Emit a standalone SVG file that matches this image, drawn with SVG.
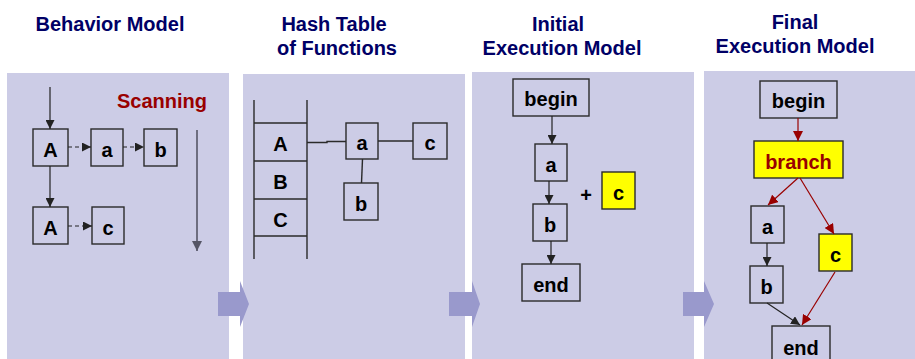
<svg xmlns="http://www.w3.org/2000/svg" width="915" height="359" viewBox="0 0 915 359">
  <style>
    .title { font-family: "Liberation Sans", Arial, sans-serif; font-size: 20px; font-weight: bold; fill: #000066; text-anchor: middle; }
    .panel { fill: #cccce6; }
    .step { fill: #9999cc; }
    .box { fill: none; stroke: #2a2a2a; stroke-width: 1.4; }
    .hl { fill: #ffff00; stroke: #2a2a2a; stroke-width: 1.4; }
    .lbl { font-family: "Liberation Sans", Arial, sans-serif; font-size: 20px; font-weight: bold; fill: #000000; text-anchor: middle; }
    .red { fill: #990000; }
    .edge { fill: none; stroke: #222222; stroke-width: 1.2; }
    .dash { fill: none; stroke: #222222; stroke-width: 1.2; stroke-dasharray: 4 3; }
    .redge { fill: none; stroke: #990000; stroke-width: 1.2; }
    .line { fill: none; stroke: #2a2a2a; stroke-width: 1.4; }
    .scan { fill: none; stroke: #555566; stroke-width: 1.6; }
  </style>
  <defs>
    <marker id="ah" viewBox="0 0 10 10" refX="10" refY="5" markerWidth="9" markerHeight="9" markerUnits="userSpaceOnUse" orient="auto">
      <path d="M0,0 L10,5 L0,10 z" fill="#222222"/>
    </marker>
    <marker id="ahr" viewBox="0 0 10 10" refX="10" refY="5" markerWidth="10" markerHeight="10" markerUnits="userSpaceOnUse" orient="auto">
      <path d="M0,0 L10,5 L0,10 z" fill="#990000"/>
    </marker>
    <marker id="ahg" viewBox="0 0 10 10" refX="10" refY="5" markerWidth="10" markerHeight="10" markerUnits="userSpaceOnUse" orient="auto">
      <path d="M0,0 L10,5 L0,10 z" fill="#555566"/>
    </marker>
  </defs>

  <rect width="915" height="359" fill="#ffffff"/>

  <!-- titles -->
  <g id="titles">
    <text class="title" x="110" y="31">Behavior Model</text>
    <text class="title" x="334" y="31">Hash Table</text>
    <text class="title" x="337" y="55">of Functions</text>
    <text class="title" x="558" y="31">Initial</text>
    <text class="title" x="562" y="55">Execution Model</text>
    <text class="title" x="795" y="29">Final</text>
    <text class="title" x="795" y="53">Execution Model</text>
  </g>

  <!-- panels -->
  <g id="panels">
    <rect class="panel" x="7" y="73" width="222" height="286"/>
    <rect class="panel" x="243" y="74" width="222" height="285"/>
    <rect class="panel" x="472" y="72" width="222" height="287"/>
    <rect class="panel" x="704" y="71" width="211" height="288"/>
  </g>

  <!-- step arrows between panels -->
  <g id="steps">
    <path class="step" d="M218,292 H240 V281 L249,304 L240,327 V316 H218 z"/>
    <path class="step" d="M449,292 H472 V281 L480,304 L472,327 V316 H449 z"/>
    <path class="step" d="M683,292 H704 V281 L714,304 L704,327 V316 H683 z"/>
  </g>

  <!-- panel 1: behavior model -->
  <g id="scanning">
    <text class="lbl red" x="162" y="108">Scanning</text>
  </g>
  <g id="b-A1"><rect class="box" x="33" y="129" width="35" height="37"/><text class="lbl" x="50.5" y="157">A</text></g>
  <g id="b-a"><rect class="box" x="91" y="129" width="32" height="37"/><text class="lbl" x="107" y="157">a</text></g>
  <g id="b-b"><rect class="box" x="144" y="129" width="33" height="37"/><text class="lbl" x="160.5" y="157">b</text></g>
  <g id="b-A2"><rect class="box" x="33" y="207" width="35" height="37"/><text class="lbl" x="50.5" y="235">A</text></g>
  <g id="b-c"><rect class="box" x="92" y="207" width="32" height="37"/><text class="lbl" x="108" y="235">c</text></g>

  <!-- panel 2: hash table -->
  <g id="h-table">
    <path class="line" d="M254,100 V259 M307,100 V259 M254,123 H307 M254,161 H307 M254,199 H307 M254,236 H307"/>
    <text class="lbl" x="280.5" y="151">A</text>
    <text class="lbl" x="280.5" y="189">B</text>
    <text class="lbl" x="280.5" y="227">C</text>
  </g>
  <g id="h-a"><rect class="box" x="346" y="123" width="32" height="36"/><text class="lbl" x="362" y="150">a</text></g>
  <g id="h-c"><rect class="box" x="413" y="123" width="34" height="36"/><text class="lbl" x="430" y="150">c</text></g>
  <g id="h-b"><rect class="box" x="344" y="183" width="34" height="37"/><text class="lbl" x="361" y="211">b</text></g>

  <!-- panel 3: initial execution model -->
  <g id="i-begin"><rect class="box" x="513" y="79" width="76" height="37"/><text class="lbl" x="551" y="106">begin</text></g>
  <g id="i-a"><rect class="box" x="535" y="144" width="32" height="37"/><text class="lbl" x="551" y="172">a</text></g>
  <g id="i-b"><rect class="box" x="533" y="204" width="34" height="37"/><text class="lbl" x="550" y="232">b</text></g>
  <g id="i-end"><rect class="box" x="522" y="264" width="58" height="37"/><text class="lbl" x="551" y="292">end</text></g>
  <g id="i-plus"><text class="lbl" x="586" y="202">+</text></g>
  <g id="i-c"><rect class="hl" x="602" y="172" width="33" height="37"/><text class="lbl" x="618.5" y="200">c</text></g>

  <!-- panel 4: final execution model -->
  <g id="f-begin"><rect class="box" x="760" y="81" width="77" height="37"/><text class="lbl" x="798.5" y="108">begin</text></g>
  <g id="f-branch"><rect class="hl" x="754" y="141" width="89" height="37"/><text class="lbl red" x="798.5" y="169">branch</text></g>
  <g id="f-a"><rect class="box" x="751" y="206" width="33" height="37"/><text class="lbl" x="767.5" y="234">a</text></g>
  <g id="f-b"><rect class="box" x="750" y="266" width="33" height="37"/><text class="lbl" x="766.5" y="294">b</text></g>
  <g id="f-c"><rect class="hl" x="819" y="234" width="33" height="37"/><text class="lbl" x="835.5" y="262">c</text></g>
  <g id="f-end"><rect class="box" x="772" y="326" width="58" height="40"/><text class="lbl" x="801" y="355">end</text></g>

  <!-- connectors -->
  <g id="connectors">
    <!-- behavior model -->
    <path class="edge" d="M50,87 V129" marker-end="url(#ah)"/>
    <path class="edge" d="M50,166 V207" marker-end="url(#ah)"/>
    <path class="dash" d="M68,147 H91" marker-end="url(#ah)"/>
    <path class="dash" d="M123,147 H144" marker-end="url(#ah)"/>
    <path class="dash" d="M68,226 H92" marker-end="url(#ah)"/>
    <path class="scan" d="M197,130 V251" marker-end="url(#ahg)"/>
    <!-- hash table links -->
    <path class="line" d="M307,142.5 H327 V141.5 H346"/>
    <path class="line" d="M378,141 H413"/>
    <path class="line" d="M362.5,159 L361.5,183"/>
    <!-- initial execution model -->
    <path class="edge" d="M552,116 V144" marker-end="url(#ah)"/>
    <path class="edge" d="M549,181 V204" marker-end="url(#ah)"/>
    <path class="edge" d="M551,241 V264" marker-end="url(#ah)"/>
    <!-- final execution model -->
    <path class="redge" d="M798,118 V141" marker-end="url(#ahr)"/>
    <path class="redge" d="M798,178 L768,205" marker-end="url(#ahr)"/>
    <path class="redge" d="M800,178 L834,234" marker-end="url(#ahr)"/>
    <path class="edge" d="M767,243 V266" marker-end="url(#ah)"/>
    <path class="edge" d="M767,303 L800,325" marker-end="url(#ah)"/>
    <path class="redge" d="M835,272 L802,325" marker-end="url(#ahr)"/>
  </g>
</svg>
